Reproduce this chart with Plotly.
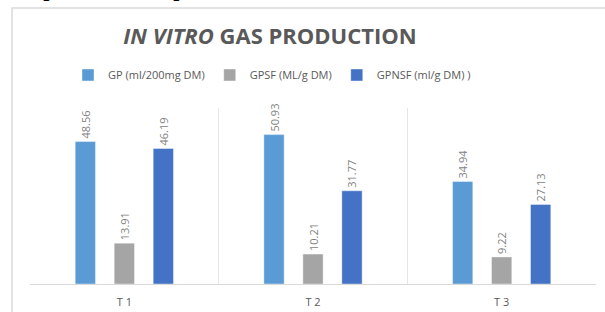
import plotly.graph_objects as go

categories = ["T 1", "T 2", "T 3"]
series_names = ["GP (ml/200mg DM)", "GPSF (ML/g DM)", "GPNSF (ml/g DM) )"]
gp = [48.56, 50.93, 34.94]
gpsf = [13.91, 10.21, 9.22]
gpnsf = [46.19, 31.77, 27.13]
colors = ["#5B9BD5", "#A5A5A5", "#4472C4"]

L, R, T, B = 30, 9, 108, 28
W, H = 605, 312
PW, PH = W - L - R, H - T - B


def px(x):
    return (x - L) / PW


def py(y):
    return (H - B - y) / PH


fig = go.Figure()
for name, vals, col in zip(series_names, [gp, gpsf, gpnsf], colors):
    fig.add_trace(go.Bar(
        x=categories, y=vals, name=name, marker_color=col,
        marker_line=dict(width=0.8, color="rgba(255,255,255,0.5)"),
        text=[f"{v:.2f}" for v in vals], textposition="outside",
        textangle=-90, cliponaxis=False, constraintext="none",
        textfont=dict(family="Open Sans, Liberation Sans, sans-serif", size=11, color="#7f7f7f"),
    ))

fig.update_layout(
    width=W, height=H,
    margin=dict(l=L, r=R, t=T, b=B, autoexpand=False),
    paper_bgcolor="white", plot_bgcolor="white",
    barmode="group", bargap=0.38, bargroupgap=0.48,
    showlegend=True,
    title=dict(
        text="<i>IN VITRO</i> GAS PRODUCTION",
        x=270 / W, xanchor="center", xref="container",
        y=1 - 36 / H, yanchor="middle", yref="container",
        font=dict(family="Open Sans, Lato, sans-serif", size=22, color="#595959", weight="bold"),
    ),
    legend=dict(
        orientation="h", x=272 / W, xanchor="center", xref="container",
        y=1 - 75 / H, yanchor="middle", yref="container",
        font=dict(family="Open Sans, Liberation Sans, sans-serif", size=11, color="#595959"),
        itemwidth=30, traceorder="normal", bgcolor="rgba(0,0,0,0)",
    ),
    xaxis=dict(
        tickson="boundaries", showgrid=True, gridcolor="#e6e6e6", gridwidth=1,
        showline=True, linecolor="#d9d9d9", linewidth=1, automargin=False,
        ticks="", ticklabelstandoff=8,
        tickfont=dict(family="Open Sans, Liberation Sans, sans-serif", size=11, color="#595959"),
        range=[-0.5, 2.5],
    ),
    yaxis=dict(range=[0, 60], showgrid=False, showticklabels=False, zeroline=False,
               showline=False, automargin=False),
    shapes=[
        dict(type="rect", xref="paper", yref="paper",
             x0=px(12), x1=px(700), y0=py(400), y1=py(8),
             line=dict(color="#d9d9d9", width=1.5), fillcolor="rgba(0,0,0,0)", layer="below"),
    ],
    annotations=[
        dict(text="<b>replaced with a picture.</b>", xref="paper", yref="paper",
             x=px(22), xanchor="left", y=py(3), yanchor="bottom", showarrow=False,
             font=dict(family="Liberation Serif, serif", size=22, color="#000000")),
    ],
)

fig.write_html("out.html", config={"displayModeBar": False},
               post_script="document.body.style.margin='0';")
